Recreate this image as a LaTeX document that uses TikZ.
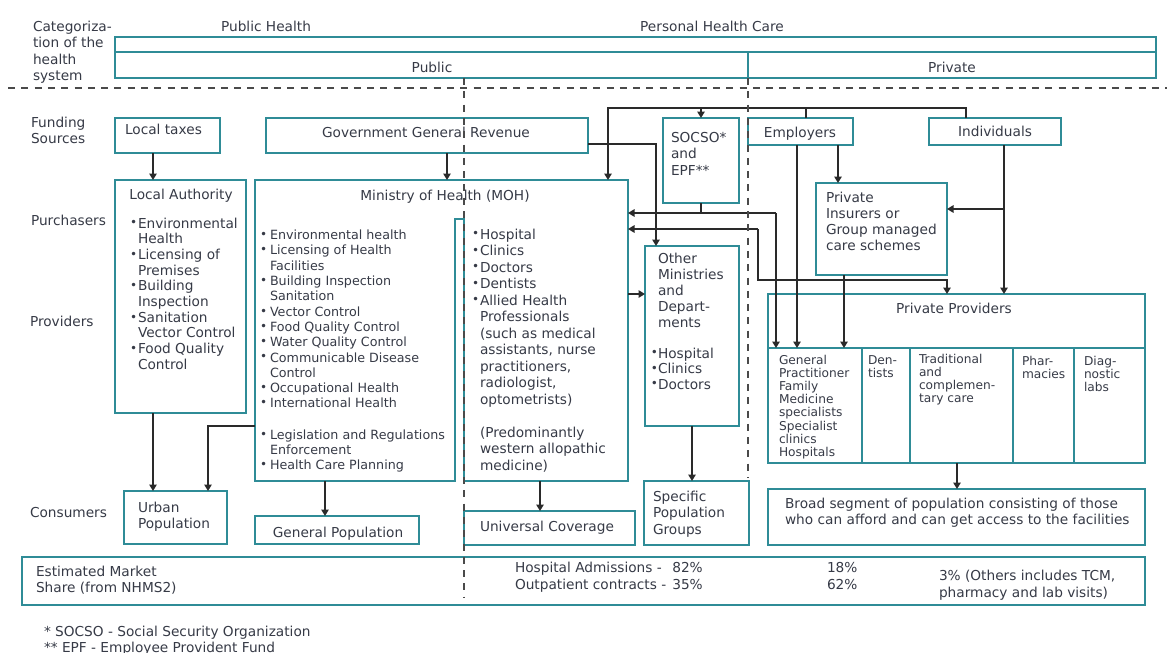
\documentclass[tikz,border=0pt]{standalone}
\usepackage{fontspec}
\setmainfont{DejaVu Sans}
\usetikzlibrary{arrows.meta}
\definecolor{tealb}{HTML}{2F8C97}
\definecolor{txtc}{HTML}{363A46}
\definecolor{lnc}{HTML}{2A2A2A}
\newcommand{\fsz}[2]{\fontsize{#1}{#2}\selectfont}
\newcommand{\ml}[1]{\begin{tabular}[t]{@{}l@{}}#1\end{tabular}}
\newcommand{\bu}[1]{\makebox[#1pt][l]{\raisebox{0.08em}{\fontsize{12}{12}\selectfont\textbullet}}}
\newcommand{\nb}[1]{\hspace*{#1pt}}
\newcommand{\hb}{\llap{\raisebox{0.08em}{\fontsize{12}{12}\selectfont\textbullet}}}
\newcommand{\bx}[5]{\node[boxn, minimum width={(#4)-(#2)}, minimum height={(#5)-(#3)}] (#1) at (#2,#3) {};}
\begin{document}
\begin{tikzpicture}[x=1pt,y=-1pt,
 every node/.style={inner sep=0pt, outer sep=0pt, text=txtc},
 boxn/.style={draw=tealb, line width=1.8pt, anchor=north west, rectangle},
 boxl/.style={draw=tealb, line width=1.8pt},
 conn/.style={draw=lnc, line width=1.4pt},
 arr/.style={conn, -{Triangle[length=6.5pt,width=7.5pt]}},
 dsh/.style={draw=lnc!85, line width=1.7pt, dash pattern=on 7pt off 6.3pt},
 tm/.style={font=\fsz{13.7}{16.5}},
 lw/.style={anchor=base west},
 lc/.style={anchor=base}]
\useasboundingbox (0,0) rectangle (1167,653);
% ---------- top categorisation bars
\bx{topbar}{115}{37}{1156}{52}
\bx{pubbar}{115}{52}{748}{78}
\bx{privbar}{748}{52}{1156}{78}
% ---------- boxes
\bx{lt}{115}{118}{220}{153}
\bx{ggr}{266}{118}{588}{153}
\bx{socso}{663}{118}{739}{203}
\bx{emp}{748}{118}{853}{145}
\bx{ind}{929}{118}{1061}{145}
\bx{la}{115}{180}{246}{413}
\node[anchor=north west, minimum width=373, minimum height=301] (moh) at (255,180) {};
\draw[boxl] (moh.north west) -- (moh.north east) -- (moh.south east) -- (464,481) -- (464,219) -- (455,219) -- (455,481) -- (moh.south west) -- cycle;
\bx{omd}{645}{246}{739}{426}
\bx{pins}{816}{183}{947}{275}
\bx{pp}{768}{294}{1145}{463}
\bx{gp}{768}{348}{862}{463}
\bx{den}{862}{348}{910}{463}
\bx{trad}{910}{348}{1013}{463}
\bx{phar}{1013}{348}{1074}{463}
\bx{diag}{1074}{348}{1145}{463}
\bx{urban}{124}{491}{227}{544}
\bx{genpop}{255}{516}{419}{544}
\bx{univ}{464}{511}{635}{545}
\bx{spg}{644}{481}{749}{545}
\bx{broad}{768}{489}{1145}{545}
\bx{market}{22}{557}{1145}{605}
% ---------- texts
\node[tm,lw] (cat) at (33,31) {\ml{Categoriza-\\tion of the\\health\\system}};
\node[tm,lc] (ph) at (266,31) {Public Health};
\node[tm,lc] (phc) at (712,31) {Personal Health Care};
\node[tm,lc] (pub) at (432,72) {Public};
\node[tm,lc] (priv) at (952,72) {Private};
\node[tm,lw] (fund) at (31,127) {\ml{Funding\\Sources}};
\node[tm,lw] (purch) at (31,225) {Purchasers};
\node[tm,lw] (prov) at (30,326) {Providers};
\node[tm,lw] (cons) at (30,517) {Consumers};
\node[tm,lw] (ltt) at (125,134) {Local taxes};
\node[tm,lc] (ggrt) at (426,137) {Government General Revenue};
\node[tm,lw] (socsot) at (671,142) {\ml{SOCSO*\\and\\EPF**}};
\node[tm,lc] (empt) at (800,137) {Employers};
\node[tm,lc] (indt) at (995,136) {Individuals};
\node[tm,lc] (lat) at (181,199) {Local Authority};
\node[font=\fsz{13.7}{15.7},lw] (lal) at (130,228) {\ml{\bu{8}Environmental\\\nb{8}Health\\\bu{8}Licensing of\\\nb{8}Premises\\\bu{8}Building\\\nb{8}Inspection\\\bu{8}Sanitation\\\nb{8}Vector Control\\\bu{8}Food Quality\\\nb{8}Control}};
\node[tm,lc] (moht) at (445,200) {Ministry of Health (MOH)};
\node[font=\fsz{12.7}{15.3},lw] (mohl1) at (260,239.6) {\ml{\bu{10}Environmental health\\\bu{10}Licensing of Health\\\nb{10}Facilities\\\bu{10}Building Inspection\\\nb{10}Sanitation\\\bu{10}Vector Control\\\bu{10}Food Quality Control\\\bu{10}Water Quality Control\\\bu{10}Communicable Disease\\\nb{10}Control\\\bu{10}Occupational Health\\\bu{10}International Health}};
\node[font=\fsz{12.7}{15},lw] (mohl2) at (260,439.6) {\ml{\bu{10}Legislation and Regulations\\\nb{10}Enforcement\\\bu{10}Health Care Planning}};
\node[font=\fsz{13.7}{16.5},lw] (mohr1) at (472,239) {\ml{\bu{8}Hospital\\\bu{8}Clinics\\\bu{8}Doctors\\\bu{8}Dentists\\\bu{8}Allied Health\\\nb{8}Professionals\\\nb{8}(such as medical\\\nb{8}assistants, nurse\\\nb{8}practitioners,\\\nb{8}radiologist,\\\nb{8}optometrists)}};
\node[font=\fsz{13.7}{16.5},lw] (mohr2) at (480,437) {\ml{(Predominantly\\western allopathic\\medicine)}};
\node[font=\fsz{13.7}{16},lw] (omdt) at (658,263) {\ml{Other\\Ministries\\and\\Depart-\\ments}};
\node[font=\fsz{13.7}{15.5},lw] (omdl) at (658,358) {\ml{\hb Hospital\\\hb Clinics\\\hb Doctors}};
\node[font=\fsz{13.7}{16.3},lw] (pinst) at (826,202) {\ml{Private\\Insurers or\\Group managed\\care schemes}};
\node[tm,lc] (ppt) at (954,313) {Private Providers};
\node[font=\fsz{12.2}{12.9},lw] (gpt) at (779,364.4) {\ml{General\\Practitioner\\Family\\Medicine\\specialists\\Specialist\\clinics\\Hospitals}};
\node[font=\fsz{12.2}{12.5},lw] (dent) at (868,364.4) {\ml{Den-\\tists}};
\node[font=\fsz{12.2}{12.9},lw] (tradt) at (919,363.4) {\ml{Traditional\\and\\complemen-\\tary care}};
\node[font=\fsz{12.2}{12.9},lw] (phart) at (1022,365.4) {\ml{Phar-\\macies}};
\node[font=\fsz{12.2}{12.6},lw] (diagt) at (1084,365.4) {\ml{Diag-\\nostic\\labs}};
\node[tm,lw] (urbant) at (138,512) {\ml{Urban\\Population}};
\node[tm,lc] (genpopt) at (338,537) {General Population};
\node[tm,lw] (univt) at (480,531) {Universal Coverage};
\node[tm,lw] (spgt) at (653,501) {\ml{Specific\\Population\\Groups}};
\node[tm,lw] (broadt) at (785,508) {\ml{Broad segment of population consisting of those\\who can afford and can get access to the facilities}};
\node[font=\fsz{13.7}{16},lw] (mkt) at (36,576) {\ml{Estimated Market\\Share (from NHMS2)}};
\node[font=\fsz{13.7}{17},lw] (mk1) at (515,572) {\begin{tabular}[t]{@{}l@{\hspace{6pt}}l@{}}Hospital Admissions - & 82\%\\Outpatient contracts - & 35\%\end{tabular}};
\node[font=\fsz{13.7}{17},lw] (mk2) at (827,572) {\ml{18\%\\62\%}};
\node[font=\fsz{13.7}{17},lw] (mk3) at (939,580) {\ml{3\% (Others includes TCM,\\pharmacy and lab visits)}};
\node[font=\fsz{13.7}{16},lw] (foot) at (44,636) {\ml{* SOCSO - Social Security Organization\\\relax** EPF - Employee Provident Fund}};
% ---------- helper coordinates
\coordinate (s1) at ([xshift=38pt]lt.south west);
\coordinate (s2) at ([xshift=181pt]ggr.south west);
\coordinate (busL) at (608,108);
\coordinate (s3) at ([xshift=37pt]ind.north west);
\coordinate (s4) at ([xshift=58pt]emp.north west);
\coordinate (j1) at (776,213);
\coordinate (j2) at (758,229);
\coordinate (j3) at (947,280);
\coordinate (j4) at (1004,209);
\coordinate (j5) at (0,294);
\coordinate (j6) at (208,426);
\coordinate (s5) at ([xshift=49pt]emp.south west);
\coordinate (s6) at ([xshift=90pt]emp.south west);
\coordinate (s7) at ([xshift=75pt]ind.south west);
\coordinate (s8) at ([xshift=28pt]pins.south west);
\coordinate (s9) at ([xshift=38pt]la.south west);
\coordinate (s10) at ([xshift=70pt]moh.south west);
\coordinate (s11) at ([xshift=-88pt]moh.south east);
\coordinate (s12) at ([xshift=189pt]pp.south west);
\coordinate (s13) at ([xshift=11pt]omd.north west);
% ---------- connectors
\draw[arr] (s1) -- (s1 |- la.north);
\draw[arr] (s2) -- (s2 |- moh.north);
\draw[arr] (s3) |- (busL) -- (busL |- moh.north);
\draw[conn] (s4) -- (s4 |- busL);
\draw[arr] (socso.north |- busL) -- (socso.north);
\draw[arr] ([yshift=9pt]ggr.south east) -| (s13);
\draw[conn] (socso.south) -- (socso.south |- j1);
\draw[arr] (j1) -- (j1 -| moh.east);
\draw[arr] (j1) -- (j1 |- gp.north);
\draw[arr] (j2) -- (j2 -| moh.east);
\draw[arr] (j2) |- (j3) -- (j3 |- pp.north);
\draw[arr] (s5) -- (s5 |- gp.north);
\draw[arr] (s6) -- (s6 |- pins.north);
\draw[arr] (s7) -- (s7 |- pp.north);
\draw[arr] (j4) -- (j4 -| pins.east);
\draw[arr] (s8) -- (s8 |- gp.north);
\draw[arr] (moh.east |- j5) -- (omd.west |- j5);
\draw[arr] (s9) -- (s9 |- urban.north);
\draw[arr] (moh.west |- j6) -- (j6) -- (j6 |- urban.north);
\draw[arr] (s10) -- (s10 |- genpop.north);
\draw[arr] (s11) -- (s11 |- univ.north);
\draw[arr] (omd.south) -- (omd.south |- spg.north);
\draw[arr] (s12) -- (s12 |- broad.north);
% ---------- dashed separators
\draw[dsh] (8,88) -- (1167,88);
\draw[dsh] (464,78) -- (464,597);
\draw[dsh] (748,78) -- (748,478);
\end{tikzpicture}
\end{document}
